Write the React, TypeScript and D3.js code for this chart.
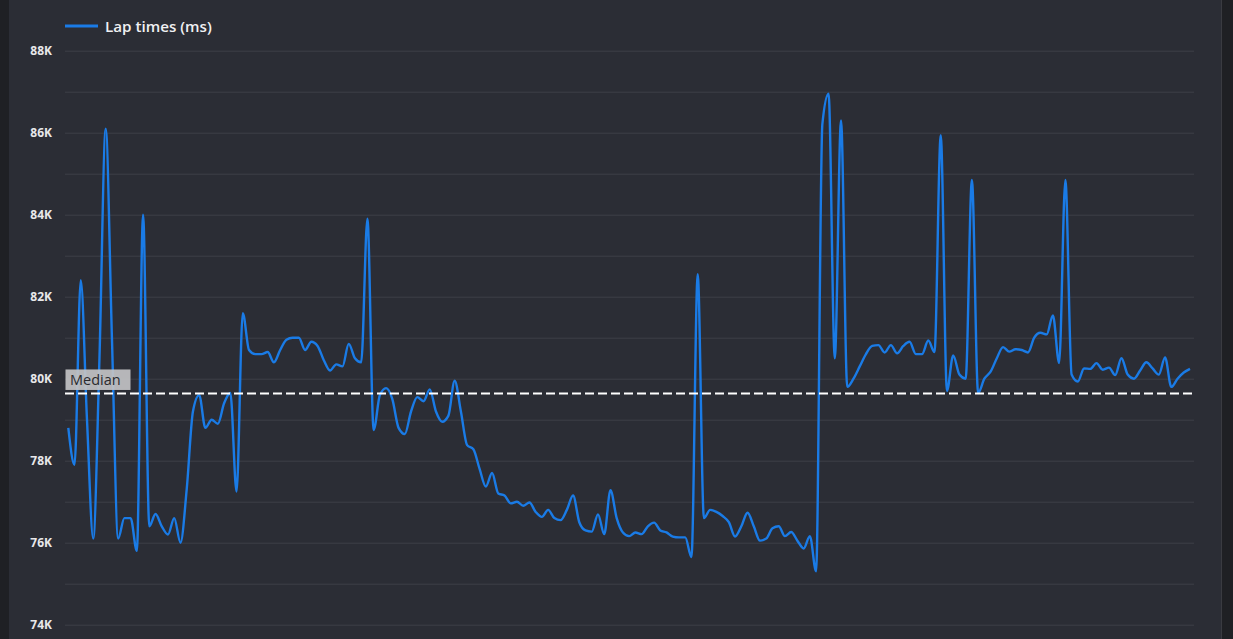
import * as d3 from "d3"
import { useEffect, useRef } from "react"

// lap times in ms, one value per lap
const lapTimes: number[] = [
    78800, 77900, 82400, 79000, 76100, 80500, 86100, 81000, 76100, 76600,
    76600, 75800, 84000, 76400, 76700, 76400, 76200, 76600, 76000, 77300,
    79200, 79600, 78800, 79000, 78900, 79400, 79650, 77250, 81600, 80700,
    80600, 80600, 80650, 80400, 80700, 80950, 81000, 81000, 80700, 80900,
    80800, 80450, 80200, 80350, 80300, 80850, 80500, 80400, 83900, 78750,
    79600, 79770, 79500, 78800, 78650, 79200, 79550, 79450, 79740, 79200,
    78950, 79100, 79950, 79200, 78380, 78280, 77800, 77370, 77700, 77200,
    77150, 76960, 77000, 76900, 76980, 76750, 76630, 76800, 76600, 76550,
    76800, 77150, 76500, 76300, 76270, 76690, 76210, 77280, 76600, 76250,
    76160, 76250, 76210, 76400, 76490, 76300, 76250, 76150, 76130, 76130,
    75650, 82550, 76600, 76800, 76750, 76650, 76500, 76150, 76400, 76730,
    76400, 76050, 76100, 76350, 76400, 76160, 76260, 76050, 75860, 76160,
    75300, 86200, 86950, 80500, 86300, 79800, 80000, 80300, 80600, 80800,
    80820, 80640, 80820, 80620, 80800, 80900, 80600, 80600, 80930, 80650,
    85940, 79700, 80570, 80100, 80000, 84850, 79650, 80000, 80170, 80500,
    80770, 80660, 80720, 80700, 80640, 81000, 81120, 81080, 81540, 80380,
    84850, 80100, 79930, 80250, 80240, 80380, 80220, 80270, 80090, 80500,
    80100, 80000, 80200, 80400, 80250, 80100, 80520, 79800, 80000, 80150,
    80240,
]
const medianLapTime = 79640
const yTickValues = [74000, 76000, 78000, 80000, 82000, 84000, 86000, 88000]
const seriesLabel = "Lap times (ms)"
const medianLabel = "Median"

export default function App() {
    const svgRef = useRef<SVGSVGElement>(null)

    useEffect(() => {
        if (!svgRef.current) return
        const svg = d3.select(svgRef.current)
        const width = 1233
        const height = 639
        const plot = { left: 65, right: 1194 }
        const font = "'Open Sans', 'Noto Sans', sans-serif"

        svg.selectAll("*").remove()

        // panel background and side strips
        svg.append("rect").attr("width", width).attr("height", height).attr("fill", "#2b2d35")
        svg.append("rect").attr("width", 9).attr("height", height).attr("fill", "#1f2024")
        svg.append("rect").attr("x", 1221).attr("width", width - 1221).attr("height", height).attr("fill", "#1f2024")
        svg.append("line").attr("x1", 1221.5).attr("x2", 1221.5).attr("y1", 0).attr("y2", height)
            .attr("stroke", "#3a3b41").attr("stroke-width", 1)

        const x = d3.scaleLinear().domain([0, lapTimes.length - 1]).range([68.3, 1190])
        const y = d3.scaleLinear().domain([74000, 88000]).range([624.7, 50.7])

        // grid lines every 1K
        svg.append("g")
            .attr("transform", `translate(${plot.left},0)`)
            .call(d3.axisLeft(y).tickValues(d3.range(74000, 88001, 1000)).tickSize(-(plot.right - plot.left)).tickFormat(() => ""))
            .call((g) => g.select(".domain").remove())
            .call((g) => g.selectAll("line").attr("stroke", "#3d3f48").attr("stroke-width", 1))

        // y labels
        svg.append("g")
            .attr("transform", `translate(${plot.left},0)`)
            .call(d3.axisLeft(y).tickValues(yTickValues).tickSize(0).tickPadding(13).tickFormat((d) => `${(d as number) / 1000}K`))
            .call((g) => g.select(".domain").remove())
            .call((g) => g.selectAll("text")
                .attr("fill", "#e8e8ea")
                .attr("font-family", font)
                .attr("font-size", 12)
                .attr("font-weight", 700))

        // lap line
        const line = d3.line<number>()
            .x((_, i) => x(i))
            .y((d) => y(d))
            .curve(d3.curveMonotoneX)

        svg.append("path")
            .datum(lapTimes)
            .attr("fill", "none")
            .attr("stroke", "#1a7be6")
            .attr("stroke-width", 2.4)
            .attr("stroke-linejoin", "round")
            .attr("d", line)

        // median line + label
        const my = y(medianLapTime)
        svg.append("line")
            .attr("x1", plot.left).attr("x2", plot.right)
            .attr("y1", my).attr("y2", my)
            .attr("stroke", "#ffffff").attr("stroke-width", 2)
            .attr("stroke-dasharray", "9,4")

        svg.append("rect")
            .attr("x", 65.5).attr("y", my - 24)
            .attr("width", 65).attr("height", 20.5)
            .attr("fill", "#c2c2c4").attr("fill-opacity", 0.92)
        svg.append("text")
            .attr("x", 70).attr("y", my - 8.5)
            .attr("fill", "#2a2a2e")
            .attr("font-family", font)
            .attr("font-size", 14.5)
            .text(medianLabel)

        // legend
        svg.append("line")
            .attr("x1", 65).attr("x2", 98).attr("y1", 26).attr("y2", 26)
            .attr("stroke", "#1a7be6").attr("stroke-width", 3)
        svg.append("text")
            .attr("x", 105).attr("y", 31.5)
            .attr("fill", "#f0f0f2")
            .attr("font-family", font)
            .attr("font-size", 15.2)
            .attr("font-weight", 600)
            .text(seriesLabel)
    }, [])

    return (
        <div style={{ position: "fixed", left: 0, top: 0 }}>
            <svg ref={svgRef} width={1233} height={639} viewBox="0 0 1233 639" style={{ display: "block" }} />
        </div>
    )
}
